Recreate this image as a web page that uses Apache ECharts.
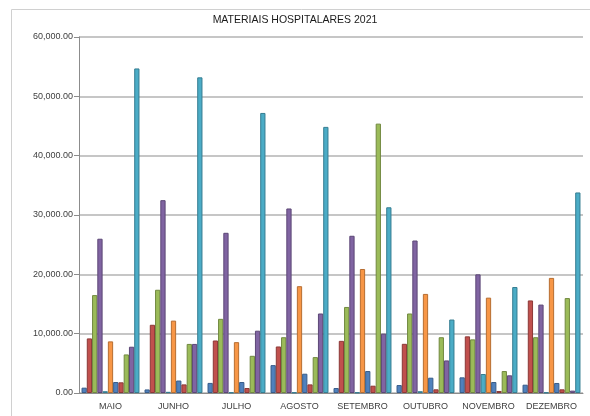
<!DOCTYPE html>
<html>
<head>
<meta charset="utf-8">
<script src="https://cdn.jsdelivr.net/npm/echarts@6/dist/echarts.min.js"></script>
<style>
  html, body { margin: 0; padding: 0; background: #fff; }
  #chart { width: 590px; height: 416px; }
</style>
</head>
<body>
<div id="chart"></div>
<script>
// Monthly purchases of hospital supplies, May–December 2021
const months = ['MAIO', 'JUNHO', 'JULHO', 'AGOSTO', 'SETEMBRO', 'OUTUBRO', 'NOVEMBRO', 'DEZEMBRO'];

// Eleven item series, one value per month
const item01 = [900, 600, 1700, 4700, 840, 1340, 2640, 1400];
const item02 = [9200, 11500, 8850, 7840, 8790, 8290, 9550, 15600];
const item03 = [16500, 17400, 12500, 9400, 14500, 13400, 9040, 9400];
const item04 = [26000, 32500, 27000, 31100, 26500, 25700, 20000, 14900];
const item05 = [300, 200, 100, 100, 100, 300, 3200, 100];
const item06 = [8700, 12200, 8570, 18000, 20900, 16700, 16070, 19400];
const item07 = [1850, 2100, 1850, 3250, 3700, 2580, 1850, 1690];
const item08 = [1800, 1450, 840, 1450, 1230, 620, 340, 620];
const item09 = [6500, 8270, 6270, 6050, 45400, 9400, 3700, 16000];
const item10 = [7800, 8270, 10500, 13400, 10000, 5490, 2980, 400];
const item11 = [54700, 53200, 47200, 44850, 31300, 12380, 17860, 33800];

const yTicks = [0, 10000, 20000, 30000, 40000, 50000, 60000];

const fills   = ['#4F81BD', '#C0504D', '#9BBB59', '#8064A2', '#4BACC6', '#F79646'];
const borders = ['#385D8A', '#8C3836', '#71893F', '#5C4776', '#357D91', '#B66D31'];

const seriesData = [item01, item02, item03, item04, item05, item06, item07, item08, item09, item10, item11];

const fmt = v => v.toLocaleString('en-US', { minimumFractionDigits: 2, maximumFractionDigits: 2 });

const chart = echarts.init(document.getElementById('chart'), null, { renderer: 'canvas' });

chart.setOption({
  animation: false,
  backgroundColor: '#ffffff',
  title: {
    text: 'MATERIAIS HOSPITALARES 2021',
    left: 'center',
    top: 10,
    textStyle: { fontFamily: 'Liberation Sans, sans-serif', fontSize: 10.5, fontWeight: 'normal', color: '#1a1a1a' }
  },
  graphic: [{
    type: 'rect',
    shape: { x: 11.5, y: 9.5, width: 600, height: 420 },
    style: { fill: 'none', stroke: '#d0d0d0', lineWidth: 1 },
    silent: true
  }],
  grid: { left: 79, right: 7, top: 37, bottom: 23, containLabel: false },
  xAxis: {
    type: 'category',
    data: months,
    axisLine: { lineStyle: { color: '#8c8c8c', width: 1 } },
    axisTick: { show: false },
    axisLabel: { interval: 0, fontFamily: 'Liberation Sans, sans-serif', fontSize: 9, color: '#404040', margin: 9 }
  },
  yAxis: {
    type: 'value',
    min: yTicks[0],
    max: yTicks[yTicks.length - 1],
    interval: yTicks[1] - yTicks[0],
    axisLine: { show: true, lineStyle: { color: '#8c8c8c', width: 1 } },
    axisTick: { show: true, length: 5, lineStyle: { color: '#8c8c8c' } },
    splitLine: { lineStyle: { color: '#b3b3b3', width: 1.5 } },
    axisLabel: { formatter: fmt, fontFamily: 'Liberation Sans, sans-serif', fontSize: 9, color: '#404040', margin: 6 }
  },
  series: seriesData.map((d, i) => ({
    type: 'bar',
    name: 'Item ' + (i + 1),
    data: d,
    barGap: '0%',
    barCategoryGap: '8%',
    itemStyle: { color: fills[i % 6], borderColor: borders[i % 6], borderWidth: 1 }
  }))
});
</script>
</body>
</html>
